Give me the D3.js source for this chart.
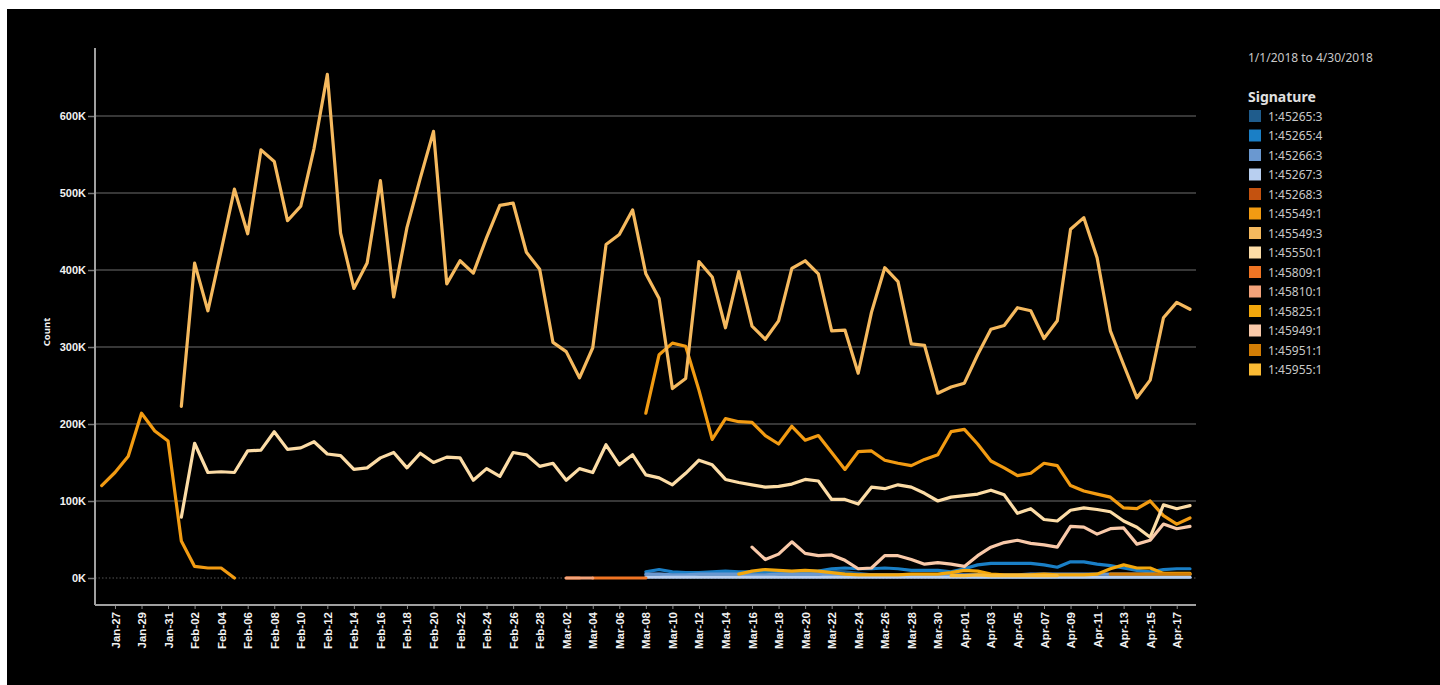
<!DOCTYPE html>
<html>
<head>
<meta charset="utf-8">
<script src="https://cdn.jsdelivr.net/npm/d3@7"></script>
<style>
  html, body { margin: 0; padding: 0; background: #fff; }
  svg { display: block; font-family: "Noto Sans", "Open Sans", sans-serif; }
</style>
</head>
<body>
<div id="chart"></div>
<script>
// first day of data (day offset 0)
const startDate = new Date(2018, 0, 26);

const signatures = ['1:45265:3', '1:45265:4', '1:45266:3', '1:45267:3', '1:45268:3', '1:45549:1', '1:45549:3',
    '1:45550:1', '1:45809:1', '1:45810:1', '1:45825:1', '1:45949:1', '1:45951:1', '1:45955:1'];
const colors = ['#1f5c8c', '#1a7fc6', '#6a98d0', '#b8cff0', '#c4520f', '#f29b12', '#f5b95e',
    '#fcdca6', '#f07524', '#f4a37a', '#f3a70c', '#f9c9a9', '#d27d05', '#fbbb34'];

// values in thousands; each array begins on the day offset given in seriesStart
const v45265_3 = [4, 5, 4, 4, 4, 4, 4, 4, 4, 4, 4, 4, 4, 5, 9, 8, 6, 4, 3, 3, 3,
    2, 2, 2, 2, 1, 1, 1, 1, 1, 1, 1, 1, 1, 1, 1, 1, 1, 1, 1, 1, 1];
const v45265_4 = [8, 11, 8, 7, 7, 8, 9, 8, 8, 8, 7, 8, 8, 9, 12, 13, 12, 12, 13, 12,
    10, 10, 10, 8, 12, 17, 19, 19, 19, 19, 17, 14, 21, 21, 18, 16, 13, 10, 8, 11, 12, 12];
const v45266_3 = [5, 5, 4, 4, 5, 5, 5, 5, 4, 4, 5, 5, 5, 5, 4, 4, 4, 4, 4, 4, 4,
    4, 4, 4, 4, 4, 4, 4, 4, 5, 5, 5, 5, 5, 5, 5, 5, 5, 5, 5, 5, 5];
const v45267_3 = [1, 1, 1, 1, 1, 1, 1, 1, 1, 1, 1, 1, 1, 1, 1, 1, 1, 1, 1, 1, 1,
    1, 1, 1, 1, 1, 1, 1, 1, 1, 1, 1, 1, 1, 1, 1, 1, 1, 1, 1, 1, 1];
const v45268_3 = [0, 0];
const v45549_1a = [120, 137, 158, 214, 191, 178, 48, 15, 13, 13, 0];
const v45549_1b = [214, 290, 305, 301, 244, 180, 207, 203, 202, 185, 174, 197, 179, 185, 163, 141, 164,
    165, 153, 149, 146, 154, 160, 190, 193, 174, 152, 143, 133, 136, 149, 146, 120, 113, 109, 105,
    91, 90, 100, 81, 70, 78];
const v45549_3 = [223, 409, 347, 425, 505, 447, 556, 541, 464, 483, 558, 654, 448, 376, 409, 516,
    365, 455, 519, 580, 382, 412, 396, 442, 484, 487, 423, 401, 306, 294, 260, 299, 433, 446, 478,
    395, 363, 246, 259, 411, 391, 325, 398, 327, 310, 334, 402, 412, 395, 321, 322, 266, 345, 403,
    385, 304, 302, 240, 248, 253, 290, 323, 328, 351, 347, 311, 334, 453, 468, 416, 321, 277, 234,
    257, 338, 358, 349];
const v45550_1 = [79, 175, 137, 138, 137, 165, 166, 190, 167, 169, 177, 161, 159, 141, 143, 156,
    163, 143, 162, 150, 157, 156, 127, 142, 132, 163, 160, 145, 149, 127, 142, 137, 173, 147, 160,
    134, 130, 121, 136, 153, 147, 128, 124, 121, 118, 119, 122, 128, 126, 102, 102, 96, 118, 116,
    121, 118, 110, 100, 105, 107, 109, 114, 108, 84, 90, 76, 74, 88, 91, 89, 86, 74, 66, 53, 95,
    90, 94];
const v45809_1 = [0, 0, 0, 0, 0];
const v45810_1 = [0, 0, 0];
const v45825_1 = [5, 9, 11, 10, 9, 10, 9, 7, 5, 4, 4, 4, 4, 5, 5, 5, 7, 10, 9, 5, 4, 4, 4, 5, 4,
    4, 4, 5, 12, 17, 13, 13, 6, 6, 6];
const v45949_1 = [40, 24, 31, 47, 32, 29, 30, 23, 12, 13, 29, 29, 24, 18, 20, 18, 15, 29, 40,
    46, 49, 45, 43, 40, 67, 66, 57, 64, 65, 44, 49, 70, 64, 67];
const v45951_1 = [5, 5, 5, 5, 5, 5, 5];
const v45955_1 = [3, 3, 4, 3, 3, 3, 3, 3, 3];

// orange 1:45549:1 has a gap between Feb-05 and Mar-08
const v45549_1 = v45549_1a.concat(Array(30).fill(null), v45549_1b);

const seriesValues = [v45265_3, v45265_4, v45266_3, v45267_3, v45268_3, v45549_1, v45549_3,
    v45550_1, v45809_1, v45810_1, v45825_1, v45949_1, v45951_1, v45955_1];
const seriesStart = [41, 41, 41, 41, 35, 0, 6, 6, 37, 35, 48, 49, 76, 64];

const yTicks = [0, 100, 200, 300, 400, 500, 600];
const xTickDays = d3.range(1, 82, 2);
const dateRange = '1/1/2018 to 4/30/2018';

const width = 1440, height = 685;
const svg = d3.select('#chart').append('svg')
    .attr('width', width)
    .attr('height', height);

// dark panel
svg.append('rect')
    .attr('x', 7).attr('y', 9)
    .attr('width', width - 7).attr('height', height - 9)
    .attr('fill', '#000');

const dayDate = d => d3.timeDay.offset(startDate, d);

const x = d3.scaleTime()
    .domain([dayDate(0), dayDate(82)])
    .range([101.7, 1190]);
const y = d3.scaleLinear()
    .domain([0, 600])
    .range([578, 116]);

const plotLeft = 95, plotRight = 1196, plotTop = 48, plotBottom = 605;

// gridlines
svg.append('g').selectAll('line')
    .data(yTicks.filter(t => t > 0))
    .join('line')
    .attr('x1', plotLeft).attr('x2', plotRight)
    .attr('y1', d => y(d)).attr('y2', d => y(d))
    .attr('stroke', '#4a4a4a')
    .attr('stroke-width', 1.6);

// zero line, dotted
svg.append('line')
    .attr('x1', plotLeft).attr('x2', plotRight)
    .attr('y1', y(0)).attr('y2', y(0))
    .attr('stroke', '#555')
    .attr('stroke-width', 1.2)
    .attr('stroke-dasharray', '1.5,2');

// y axis
const yAxis = d3.axisLeft(y)
    .tickValues(yTicks)
    .tickFormat(d => d + 'K')
    .tickSize(7)
    .tickPadding(2);
const yAxisG = svg.append('g')
    .attr('transform', `translate(${plotLeft},0)`)
    .call(yAxis);
yAxisG.select('.domain').remove();
yAxisG.selectAll('.tick line').attr('stroke', '#777').attr('stroke-width', 1.5);
yAxisG.selectAll('.tick text')
    .attr('fill', '#f2f2f2')
    .style('font-size', '11px')
    .style('font-weight', 'bold');

// x axis
const xAxis = d3.axisBottom(x)
    .tickValues(xTickDays.map(dayDate))
    .tickFormat(d3.timeFormat('%b-%d'))
    .tickSize(4)
    .tickPadding(4);
const xAxisG = svg.append('g')
    .attr('transform', `translate(0,${plotBottom})`)
    .call(xAxis);
xAxisG.select('.domain').remove();
xAxisG.selectAll('.tick line').attr('stroke', '#888');
xAxisG.selectAll('.tick text')
    .attr('fill', '#f2f2f2')
    .style('font-size', '11.5px')
    .style('font-weight', 'bold')
    .attr('text-anchor', 'end')
    .attr('dy', '0.35em')
    .attr('transform', 'translate(0,7) rotate(-90)')
    .attr('x', 0).attr('y', 0);

// axis lines
svg.append('line')
    .attr('x1', plotLeft).attr('x2', plotLeft)
    .attr('y1', plotTop).attr('y2', plotBottom)
    .attr('stroke', '#a0a0a0').attr('stroke-width', 2);
svg.append('line')
    .attr('x1', plotLeft).attr('x2', plotRight)
    .attr('y1', plotBottom).attr('y2', plotBottom)
    .attr('stroke', '#a0a0a0').attr('stroke-width', 2);

svg.append('text')
    .attr('transform', `translate(50,332) rotate(-90)`)
    .attr('text-anchor', 'middle')
    .attr('fill', '#f2f2f2')
    .style('font-size', '9.5px')
    .style('font-weight', 'bold')
    .text('Count');

// lines
const line = d3.line()
    .defined(d => d.v != null)
    .x(d => x(d.date))
    .y(d => y(d.v));

const series = signatures.map((name, i) => ({
    name,
    color: colors[i],
    points: seriesValues[i].map((v, j) => ({date: dayDate(seriesStart[i] + j), v}))
}));

svg.append('g').selectAll('path')
    .data(series)
    .join('path')
    .attr('d', d => line(d.points))
    .attr('fill', 'none')
    .attr('stroke', d => d.color)
    .attr('stroke-width', 3.2)
    .attr('stroke-linejoin', 'round')
    .attr('stroke-linecap', 'round');

// legend
svg.append('text')
    .attr('x', 1248).attr('y', 62)
    .attr('fill', '#c8c8c8')
    .style('font-size', '12px')
    .text(dateRange);
svg.append('text')
    .attr('x', 1248).attr('y', 102)
    .attr('fill', '#e0e0e0')
    .style('font-size', '14px')
    .style('font-weight', 'bold')
    .text('Signature');

const legend = svg.append('g').selectAll('g')
    .data(series)
    .join('g')
    .attr('transform', (d, i) => `translate(1249,${110 + i * 19.5})`);
legend.append('rect')
    .attr('width', 12).attr('height', 12)
    .attr('fill', d => d.color);
legend.append('text')
    .attr('x', 19).attr('y', 10.5)
    .attr('fill', '#c8c8c8')
    .style('font-size', '12px')
    .text(d => d.name);
</script>
</body>
</html>
